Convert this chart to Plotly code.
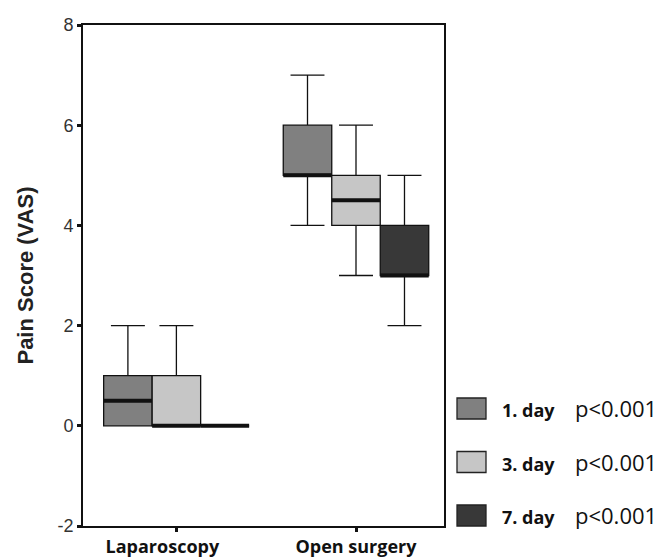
import plotly.graph_objects as go

categories = ["Laparoscopy", "Open surgery"]
days = ["1. day", "3. day", "7. day"]
p_values = ["p&lt;0.001", "p&lt;0.001", "p&lt;0.001"]
mins = [[0, 4], [0, 3], [0, 2]]
q1s = [[0, 5], [0, 4], [0, 3]]
medians = [[0.5, 5], [0, 4.5], [0, 3]]
q3s = [[1, 6], [1, 5], [0, 4]]
maxs = [[2, 7], [2, 6], [0, 5]]
y_ticks = [-2, 0, 2, 4, 6, 8]
y_ticktext = ["-2", "0", "2", "4", "6", "8"]
colors = ["#808080", "#c6c6c6", "#383838"]

W, H = 663, 559
ML, MR, MT, MB = 83, 219, 25, 33
PW, PH = W - ML - MR, H - MT - MB


def px_x(px):
    return (px - ML) / PW


def px_y(py):
    return (H - MB - py) / PH


fig = go.Figure()
for i, d in enumerate(days):
    fig.add_trace(go.Box(
        x=categories, q1=q1s[i], median=medians[i], q3=q3s[i],
        lowerfence=mins[i], upperfence=maxs[i],
        name=d,
        fillcolor=colors[i], line=dict(color="#111111", width=1.3),
        whiskerwidth=0.7, offsetgroup=f"g{i}", showlegend=False,
        hoverinfo="skip",
    ))
    # thick median line overlay
    fig.add_trace(go.Box(
        x=categories, q1=medians[i], median=medians[i], q3=medians[i],
        lowerfence=medians[i], upperfence=medians[i],
        fillcolor="rgba(0,0,0,0)", line=dict(color="#111111", width=4),
        whiskerwidth=0, offsetgroup=f"g{i}",
        showlegend=False, hoverinfo="skip",
    ))

# legend drawn as swatches + text
shapes = []
annotations = []
for i, d in enumerate(days):
    top = 398 + i * 53.5
    shapes.append(dict(
        type="rect", xref="paper", yref="paper",
        x0=px_x(457), x1=px_x(486), y0=px_y(top + 21), y1=px_y(top),
        fillcolor=colors[i], line=dict(color="#222222", width=1.3),
    ))
    annotations.append(dict(
        xref="paper", yref="paper", x=px_x(500), y=px_y(top + 12),
        xanchor="left", yanchor="middle", showarrow=False,
        text=f"<b>{d}</b>",
        font=dict(size=18, family="Open Sans", color="#111111"),
    ))
    annotations.append(dict(
        xref="paper", yref="paper", x=px_x(573), y=px_y(top + 10),
        xanchor="left", yanchor="middle", showarrow=False,
        text=p_values[i],
        font=dict(size=22, family="Open Sans", color="#111111"),
    ))

fig.update_layout(
    width=W, height=H,
    margin=dict(l=ML, r=MR, t=MT, b=MB),
    paper_bgcolor="white", plot_bgcolor="white",
    boxmode="group", boxgap=0.19, boxgroupgap=0,
    font=dict(family="Liberation Sans, Arial", color="#222222"),
    shapes=shapes, annotations=annotations,
    yaxis=dict(
        range=[-2, 8], tickvals=y_ticks, ticktext=y_ticktext,
        showgrid=False, zeroline=False, automargin=False,
        showline=True, linecolor="#111111", linewidth=1.6, mirror=True,
        ticks="outside", ticklen=4, tickwidth=2.5, tickcolor="#111111",
        tickfont=dict(size=18, family="Liberation Sans, Arial", color="#333333"),
        title=dict(text="<b>Pain Score (VAS)</b>",
                   font=dict(size=22, family="Liberation Sans, Arial", color="#222222"),
                   standoff=18),
    ),
    xaxis=dict(
        range=[-0.52, 1.49], showgrid=False, zeroline=False, automargin=False,
        showline=True, linecolor="#111111", linewidth=1.6, mirror=True,
        ticks="outside", ticklen=4, tickwidth=3, tickcolor="#111111",
        tickfont=dict(size=18, family="Open Sans", color="#111111"),
        tickvals=categories,
        ticktext=["<b>Laparoscopy</b>&nbsp;&nbsp;&nbsp;&nbsp;&nbsp;&nbsp;", "<b>Open surgery</b>"],
    ),
    showlegend=False,
)

fig.write_html("out.html", config={"displayModeBar": False},
               post_script="document.body.style.margin='0px';")
